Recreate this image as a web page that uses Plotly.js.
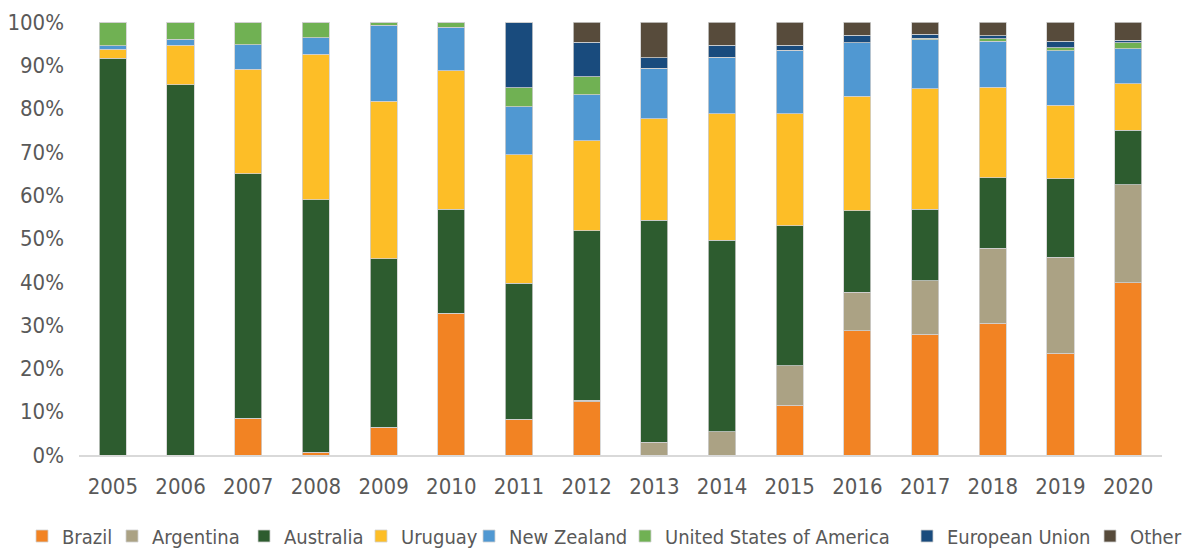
<!DOCTYPE html>
<html><head><meta charset="utf-8">
<script src="https://cdn.plot.ly/plotly-3.0.1.min.js"></script>
<style>body{margin:0;background:#fff}#chart{width:1192px;height:553px}</style>
</head><body><div id="chart"></div>
<script>
const years = ['2005','2006','2007','2008','2009','2010','2011','2012','2013','2014','2015','2016','2017','2018','2019','2020'];
const brazil     = [0,    0,    8.5,  0.6,  6.4,  32.7, 8.2,  12.3, 0,    0,    11.5, 28.7, 27.9, 30.4, 23.5, 39.8];
const argentina  = [0,    0,    0,    0,    0,    0,    0,    0.3,  2.9,  5.4,  9.1,  8.9,  12.3, 17.3, 22.2, 22.6];
const australia  = [91.6, 85.5, 56.5, 58.4, 38.9, 24.0, 31.5, 39.2, 51.3, 44.2, 32.4, 18.8, 16.5, 16.3, 18.1, 12.6];
const uruguay    = [2.1,  9.1,  24.1, 33.5, 36.4, 32.0, 29.6, 20.8, 23.4, 29.2, 25.8, 26.5, 27.9, 20.9, 17.0, 10.7];
const newZealand = [0.8,  1.4,  5.7,  3.9,  17.5, 10.1, 11.1, 10.6, 11.7, 13.1, 14.7, 12.3, 11.3, 10.6, 12.6, 8.1];
const usa        = [5.5,  4.0,  5.2,  3.6,  0.8,  1.2,  4.4,  4.2,  0,    0,    0,    0,    0.4,  0.6,  0.7,  1.4];
const eu         = [0,    0,    0,    0,    0,    0,    15.2, 7.9,  2.5,  2.7,  1.1,  1.7,  0.9,  0.7,  1.4,  0.6];
const other      = [0,    0,    0,    0,    0,    0,    0,    4.7,  8.2,  5.4,  5.4,  3.1,  2.8,  3.2,  4.5,  4.2];

const seriesNames = ['Brazil','Argentina','Australia','Uruguay','New Zealand','United States of America','European Union','Other'];
const seriesVals = [brazil, argentina, australia, uruguay, newZealand, usa, eu, other];
const colors = ['#F28323','#ABA284','#2D5C2F','#FDBE27','#5098D2','#70B153','#194B7D','#574B3B'];
// legend entry positions (pixels, left edge of each legend entry)
const legendPx = [22, 112, 244, 361, 469, 625, 907, 1090];

const FONT = '"DejaVu Sans Condensed", "Liberation Sans Narrow", sans-serif';
const PL = 79, PR = 30, PT = 22, PB = 98, W = 1192, H = 553;
const plotW = W - PL - PR, plotH = H - PT - PB;

const traces = seriesNames.map((n, i) => ({
  type: 'bar',
  name: n,
  x: years,
  y: seriesVals[i].map(v => v / 100),
  marker: {color: colors[i], line: {color: '#d0d0d0', width: 0.8}},
  legend: i === 0 ? 'legend' : 'legend' + (i + 1)
}));

const layout = {
  barmode: 'stack',
  bargap: 0.6,
  paper_bgcolor: '#fff',
  plot_bgcolor: '#fff',
  margin: {l: PL, r: PR, t: PT, b: PB, autoexpand: false},
  font: {family: FONT, color: '#595959', size: 22},
  xaxis: {
    type: 'category',
    showgrid: false,
    showline: true,
    linecolor: '#d9d9d9',
    linewidth: 2,
    ticks: '',
    ticklabelstandoff: 11,
    tickfont: {size: 22, color: '#595959', family: FONT}
  },
  yaxis: {
    range: [0, 1],
    dtick: 0.1,
    tickformat: '.0%',
    showgrid: false,
    zeroline: false,
    showline: false,
    ticks: '',
    ticklabelstandoff: 14,
    tickfont: {size: 22, color: '#595959', family: FONT}
  },
  showlegend: true
};
seriesNames.forEach((n, i) => {
  const key = i === 0 ? 'legend' : 'legend' + (i + 1);
  layout[key] = {
    orientation: 'h',
    x: (legendPx[i] - PL) / plotW, xanchor: 'left',
    y: (PT + plotH - 536) / plotH, yanchor: 'middle',
    bgcolor: 'rgba(0,0,0,0)',
    font: {size: 20, color: '#595959', family: FONT},
    itemclick: false
  };
});

Plotly.newPlot('chart', traces, layout, {displayModeBar: false, staticPlot: true});
</script></body></html>
